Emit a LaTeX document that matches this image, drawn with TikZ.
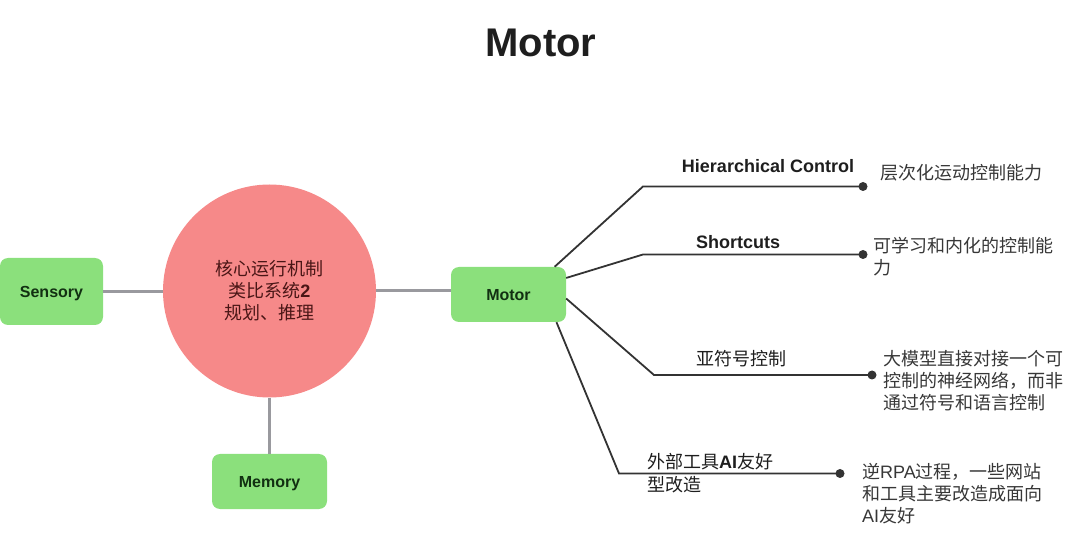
\documentclass[tikz,border=0pt]{standalone}
\usepackage{fontspec}
\setmainfont{Liberation Sans}
\newfontfamily\cjk{Noto Sans CJK SC}
\newcommand\lat[1]{{\rmfamily #1}}
\definecolor{boxgreen}{RGB}{139,224,124}
\definecolor{boxtext}{RGB}{18,48,18}
\definecolor{corered}{RGB}{246,137,137}
\definecolor{coretext}{RGB}{74,22,22}
\definecolor{hubgray}{RGB}{153,153,158}
\definecolor{branchcol}{RGB}{51,51,51}
\definecolor{labelcol}{RGB}{30,30,30}
\definecolor{desccol}{RGB}{55,55,55}
\begin{document}
\begin{tikzpicture}[x=1pt,y=-1pt,
  titlestyle/.style={font=\fontsize{40}{44}\selectfont\bfseries, text=labelcol, inner sep=0, text height=29, text depth=0},
  hubbox/.style={rectangle, rounded corners=8, fill=boxgreen, draw=none, text=boxtext,
     font=\fontsize{16}{19}\selectfont\bfseries, inner sep=0, text height=11.5, text depth=0},
  corestyle/.style={circle, fill=corered, draw=none, minimum size=213, inner sep=0,
     text=coretext, align=center, font=\cjk\fontsize{18}{22}\selectfont},
  hubline/.style={draw=hubgray, line width=3},
  branch/.style={draw=branchcol, line width=1.8},
  bdot/.style={circle, fill=branchcol, draw=none, minimum size=9, inner sep=0},
  blabel/.style={inner sep=0, text=labelcol, font=\fontsize{18}{22}\selectfont\bfseries},
  cjklabel/.style={inner sep=0, text=labelcol, font=\cjk\fontsize{18}{23}\selectfont, align=left},
  desc/.style={inner sep=0, anchor=west, text=desccol, font=\cjk\fontsize{18}{22}\selectfont, align=left}
]
\path[use as bounding box] (0,0) rectangle (1080,545);

\node[titlestyle] (title) at (541,42) {Motor};

\node[corestyle] (core) at (269.5,291) {核心运行机制\\类比系统{\rmfamily\bfseries 2}\\规划、推理};

\node[hubbox, minimum width=103, minimum height=67] (sensory) at (51.5,291.5) {Sensory};
\node[hubbox, minimum width=115, minimum height=55] (motor) at (508.5,294.5) {Motor};
\node[hubbox, minimum width=115, minimum height=55] (memory) at (269.5,481.5) {Memory};

\draw[hubline] (sensory.east) -- (sensory.east -| core.west);
\draw[hubline] (core.east) -- (core.east -| motor.west);
\draw[hubline] (core.south) -- (memory.north);

% branch dots and elbows
\node[bdot] (d1) at (863,186.5) {};
\node[bdot] (d2) at (863,254.5) {};
\node[bdot] (d3) at (872,375) {};
\node[bdot] (d4) at (840,473.5) {};
\coordinate (e1) at (643,186.5);
\coordinate (e2) at (643,254.5);
\coordinate (e3) at (654,375);
\coordinate (e4) at (619,473.5);

\draw[branch] (motor.31) -- (e1) -- (d1.center);
\draw[branch] (motor.16) -- (e2) -- (d2.center);
\draw[branch] (motor.-4.5) -- (e3) -- (d3.center);
\draw[branch] (motor.-30.6) -- (e4) -- (d4.center);

% branch labels
\node[blabel] (l1) at (768,166) {Hierarchical Control};
\node[blabel] (l2) at (738,242) {Shortcuts};
\node[cjklabel] (l3) at (741,359) {亚符号控制};
\node[cjklabel, anchor=west] (l4) at (647,473.5) {外部工具{\rmfamily\bfseries AI}友好\\型改造};

% descriptions
\node[desc] (t1) at (880,173) {层次化运动控制能力};
\node[desc] (t2) at (873,256.5) {可学习和内化的控制能\\力};
\node[desc] (t3) at (883,381) {大模型直接对接一个可\\控制的神经网络，而非\\通过符号和语言控制};
\node[desc] (t4) at (862,493.5) {逆\lat{RPA}过程，一些网站\\和工具主要改造成面向\\\lat{AI}友好};
\end{tikzpicture}
\end{document}
